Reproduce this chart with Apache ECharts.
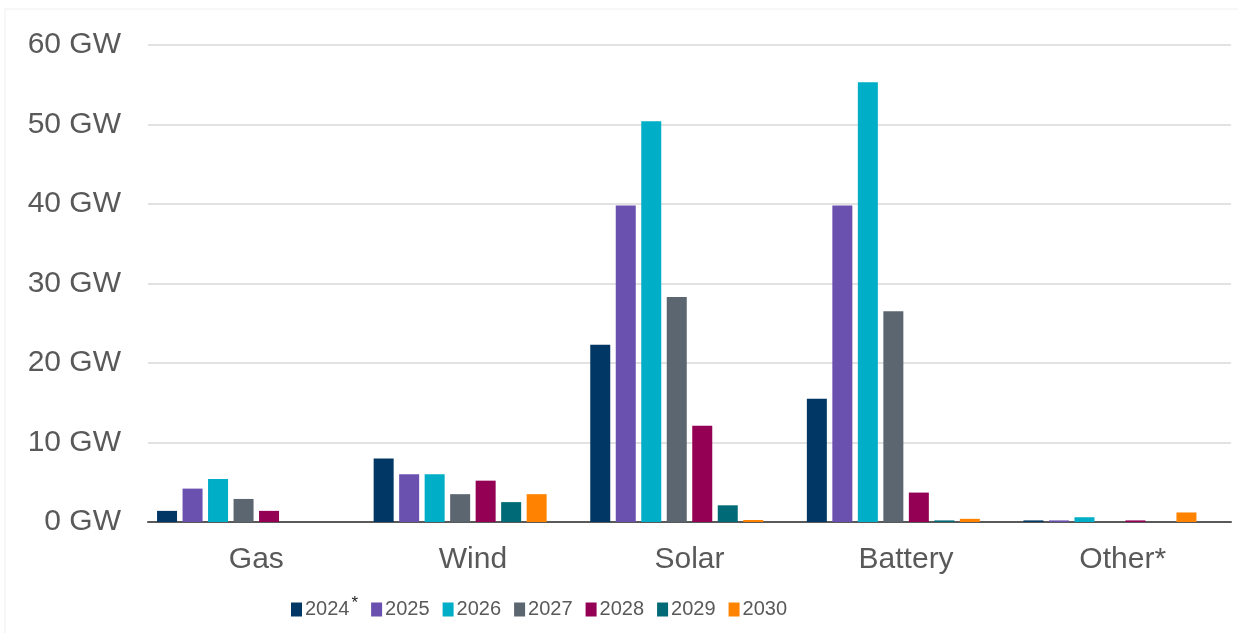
<!DOCTYPE html>
<html>
<head>
<meta charset="utf-8">
<style>
  html, body { margin: 0; padding: 0; background: #ffffff; }
  #chart { width: 1238px; height: 633px; }
</style>
<script src="https://cdn.jsdelivr.net/npm/echarts@6/dist/echarts.min.js"></script>
</head>
<body>
<div id="chart"></div>
<script>
// Capacity additions by technology and year (GW)
const categories = ['Gas', 'Wind', 'Solar', 'Battery', 'Other*'];
const years = ['2024', '2025', '2026', '2027', '2028', '2029', '2030'];

const v2024 = [1.4, 8.0, 22.3, 15.5, 0.2];
const v2025 = [4.2, 6.0, 39.8, 39.8, 0.2];
const v2026 = [5.4, 6.0, 50.4, 55.3, 0.6];
const v2027 = [2.9, 3.5, 28.3, 26.5, null];
const v2028 = [1.4, 5.2, 12.1, 3.7, 0.2];
const v2029 = [null, 2.5, 2.1, 0.2, null];
const v2030 = [null, 3.5, 0.25, 0.4, 1.2];

const yTicks = [0, 10, 20, 30, 40, 50, 60];

const seriesValues = [v2024, v2025, v2026, v2027, v2028, v2029, v2030];
const colors = ['#003764', '#6a51b0', '#00aec7', '#5b6670', '#930054', '#006b77', '#ff8300'];

const chart = echarts.init(document.getElementById('chart'));

const barSeries = years.map((y, i) => ({
  name: y,
  type: 'bar',
  data: seriesValues[i],
  barWidth: 20,
  barGap: '27.5%',
  itemStyle: { color: colors[i] }
}));

// Empty trailing slot in each category group
barSeries.push({
  name: 'spacer',
  type: 'bar',
  data: categories.map(() => null),
  barWidth: 20,
  barGap: '27.5%',
  silent: true
});

chart.setOption({
  backgroundColor: '#ffffff',
  animation: false,
  graphic: [{
    type: 'rect',
    shape: { x: 5, y: 9, width: 1260, height: 660 },
    style: { fill: 'none', stroke: '#eeeeee', lineWidth: 1 },
    z: -1
  }],
  grid: { left: 148, right: 7, top: 45, bottom: 111, containLabel: false },
  legend: {
    data: years,
    left: 286,
    top: 590,
    itemWidth: 11,
    itemHeight: 14,
    itemGap: 13,
    icon: 'rect',
    formatter: name => name === '2024' ? '2024{s|*}' : name,
    textStyle: {
      fontFamily: '"Liberation Sans", Arial, sans-serif',
      fontSize: 20,
      color: '#595959',
      padding: [0, 0, 0, -2],
      rich: {
        s: {
          fontFamily: '"Liberation Sans", Arial, sans-serif',
          fontSize: 17,
          color: '#222222',
          padding: [0, 0, 12, 2]
        }
      }
    }
  },
  xAxis: {
    type: 'category',
    data: categories,
    axisLine: { show: true, lineStyle: { color: '#595959', width: 2 } },
    axisTick: { show: false },
    axisLabel: {
      fontFamily: '"Liberation Sans", Arial, sans-serif',
      fontSize: 30,
      color: '#595959',
      margin: 23
    }
  },
  yAxis: {
    type: 'value',
    min: yTicks[0],
    max: yTicks[yTicks.length - 1],
    interval: 10,
    axisLine: { show: false },
    axisTick: { show: false },
    splitLine: { lineStyle: { color: '#d9d9d9', width: 1.5 } },
    axisLabel: {
      fontFamily: '"Liberation Sans", Arial, sans-serif',
      fontSize: 30,
      color: '#595959',
      margin: 27,
      formatter: '{value} GW'
    }
  },
  series: barSeries
});
</script>
</body>
</html>
